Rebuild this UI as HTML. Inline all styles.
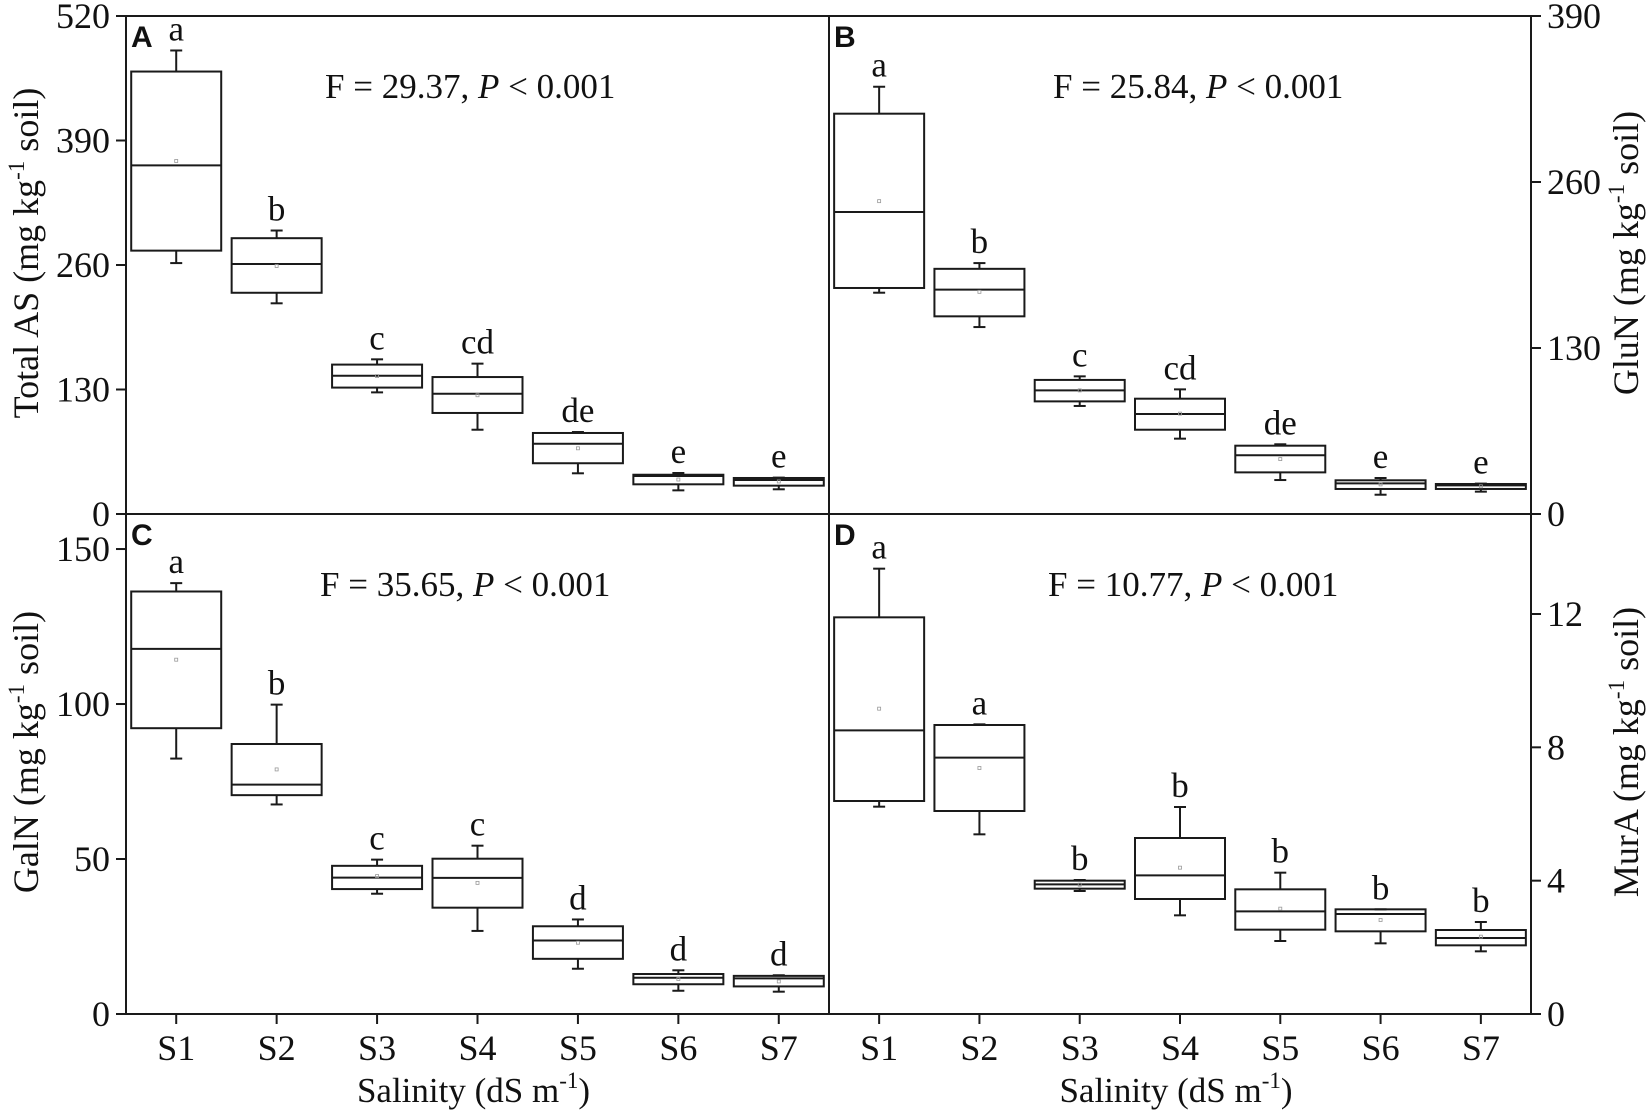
<!DOCTYPE html>
<html><head><meta charset="utf-8">
<style>
html,body{margin:0;padding:0;background:#fff;}
svg{display:block;}
text{font-family:"Liberation Serif",serif;fill:#111;}
</style></head>
<body>
<svg id="chart" width="1650" height="1114" viewBox="0 0 1650 1114"></svg>
<script>
const categories = ["S1","S2","S3","S4","S5","S6","S7"];
// Panel A: Total AS
const aWhiskerHigh = [484, 296, 161.5, 157, 85.6, 42.8, 38];
const aBoxHigh     = [462, 288, 156, 143, 84.6, 41, 37.6];
const aMedian      = [364, 261, 144.4, 125.6, 73.4, 39.7, 35.5];
const aMean        = [368.6, 259, 144, 124, 68.6, 36, 34];
const aBoxLow      = [275, 231, 132, 105.5, 53, 31, 29.6];
const aWhiskerLow  = [262, 220, 127, 88, 42.5, 24.7, 25.8];
const aLetters     = ["a","b","c","cd","de","e","e"];
const aTicks       = [0, 130, 260, 390, 520];
// Panel B: GluN
const bWhiskerHigh = [334.6, 196.5, 107.8, 97.6, 54.6, 28.2, 23.8];
const bBoxHigh     = [313.5, 192, 105, 90.3, 53.5, 26.4, 23.5];
const bMedian      = [236.5, 175.7, 96.8, 78.3, 46, 24, 22.4];
const bMean        = [245, 174, 96.8, 78.6, 43, 23.2, 21.7];
const bBoxLow      = [177, 154.8, 88.2, 66, 32.6, 19.6, 19.6];
const bWhiskerLow  = [173.3, 146.4, 84.6, 59, 26.6, 15.1, 17.5];
const bLetters     = ["a","b","c","cd","de","e","e"];
const bTicks       = [0, 130, 260, 390];
// Panel C: GalN
const cWhiskerHigh = [139, 99.8, 49.8, 54.3, 30.5, 14.1, 12.5];
const cBoxHigh     = [136.3, 87.1, 47.8, 50.1, 28.3, 12.9, 12.3];
const cMedian      = [117.8, 74, 44, 43.9, 23.7, 11.7, 11.5];
const cMean        = [114.3, 78.9, 44.5, 42.3, 23, 11.3, 10.5];
const cBoxLow      = [92.2, 70.6, 40.3, 34.3, 17.8, 9.6, 8.9];
const cWhiskerLow  = [82.4, 67.6, 38.8, 26.8, 14.6, 7.5, 7.2];
const cLetters     = ["a","b","c","c","d","d","d"];
const cTicks       = [0, 50, 100, 150];
// Panel D: MurA
const dWhiskerHigh = [13.36, 8.69, 4.02, 6.21, 4.24, 3.14, 2.76];
const dBoxHigh     = [11.9, 8.67, 4.0, 5.28, 3.74, 3.14, 2.52];
const dMedian      = [8.51, 7.69, 3.89, 4.16, 3.08, 3.0, 2.28];
const dMean        = [9.16, 7.38, 3.88, 4.39, 3.16, 2.82, 2.32];
const dBoxLow      = [6.39, 6.09, 3.76, 3.45, 2.53, 2.48, 2.06];
const dWhiskerLow  = [6.22, 5.39, 3.69, 2.96, 2.19, 2.12, 1.88];
const dLetters     = ["a","a","b","b","b","b","b"];
const dTicks       = [0, 4, 8, 12];

const NS = "http://www.w3.org/2000/svg";
const svg = document.getElementById("chart");
function mk(tag, attrs, parent, txt){
  const e = document.createElementNS(NS, tag);
  for (const k in attrs) e.setAttribute(k, attrs[k]);
  if (txt !== undefined) e.textContent = txt;
  (parent || svg).appendChild(e);
  return e;
}
const STROKE = "#1a1a1a";

const panels = [
  {id:"a", label:"A", x0:126, x1:829, y0:16, y1:514, max:520, ticks:aTicks, side:"left",
   wh:aWhiskerHigh, bh:aBoxHigh, md:aMedian, mn:aMean, bl:aBoxLow, wl:aWhiskerLow, lt:aLetters,
   stat:"29.37", statX:325, title:"Total AS", titleX:38},
  {id:"b", label:"B", x0:829, x1:1531, y0:16, y1:514, max:390, ticks:bTicks, side:"right",
   wh:bWhiskerHigh, bh:bBoxHigh, md:bMedian, mn:bMean, bl:bBoxLow, wl:bWhiskerLow, lt:bLetters,
   stat:"25.84", statX:1053, title:"GluN", titleX:1638},
  {id:"c", label:"C", x0:126, x1:829, y0:514, y1:1014, max:161.3, ticks:cTicks, side:"left",
   wh:cWhiskerHigh, bh:cBoxHigh, md:cMedian, mn:cMean, bl:cBoxLow, wl:cWhiskerLow, lt:cLetters,
   stat:"35.65", statX:320, title:"GalN", titleX:38},
  {id:"d", label:"D", x0:829, x1:1531, y0:514, y1:1014, max:15, ticks:dTicks, side:"right",
   wh:dWhiskerHigh, bh:dBoxHigh, md:dMedian, mn:dMean, bl:dBoxLow, wl:dWhiskerLow, lt:dLetters,
   stat:"10.77", statX:1048, title:"MurA", titleX:1638}
];

panels.forEach(p => {
  const g = mk("g", {});
  
  
  const step = (p.x1 - p.x0) / categories.length;
  const xs = i => p.x0 + step * (i + 0.5);
  const ys = v => p.y1 - (v / p.max) * (p.y1 - p.y0);

  const fr = mk("rect", {x:p.x0, y:p.y0, width:p.x1-p.x0, height:p.y1-p.y0, fill:"none", stroke:STROKE, "stroke-width":2}, g);
  
  

  const axisX = p.side === "left" ? p.x0 : p.x1;
  const dir = p.side === "left" ? -1 : 1;
  const yAxis = mk("g", {}, g);
  
  
  p.ticks.forEach(t => {
    const y = ys(t);
    mk("line", {x1:axisX, x2:axisX + dir*10, y1:y, y2:y, stroke:STROKE, "stroke-width":2}, yAxis);
    const tl = mk("text", {x:axisX + dir*16, y:y + 12, "font-size":36, "text-anchor": p.side==="left"?"end":"start"}, yAxis, String(t));
    
    
  });

  const cy = (p.y0 + p.y1) / 2 - 12;
  const tt = mk("text", {x:0, y:0, "font-size":36, "text-anchor":"middle",
    transform:`translate(${p.titleX},${cy}) rotate(-90)`}, g);
  
  
  mk("tspan", {}, tt, p.title + " (mg kg");
  mk("tspan", {dy:-14, "font-size":23}, tt, "-1");
  mk("tspan", {dy:14}, tt, " soil)");

  const pl = mk("text", {x:p.x0 + 5, y:p.y0 + 31, "font-size":30, "font-weight":"bold", style:"font-family:'Liberation Sans',sans-serif"}, g, p.label);
  
  

  const st = mk("text", {x:p.statX, y:p.y0 + 82, "font-size":35}, g);
  
  
  mk("tspan", {}, st, "F = " + p.stat + ", ");
  mk("tspan", {"font-style":"italic"}, st, "P");
  mk("tspan", {}, st, " < 0.001");

  const bw = 90;
  categories.forEach((c, i) => {
    const x = xs(i);
    const bg = mk("g", {}, g);
    
    
    const yWH = ys(p.wh[i]), yBH = ys(p.bh[i]), yMd = ys(p.md[i]), yBL = ys(p.bl[i]), yWL = ys(p.wl[i]), yMn = ys(p.mn[i]);
    mk("line", {x1:x, x2:x, y1:yWH, y2:yBH, stroke:STROKE, "stroke-width":2}, bg);
    mk("line", {x1:x-6, x2:x+6, y1:yWH, y2:yWH, stroke:STROKE, "stroke-width":2}, bg);
    mk("line", {x1:x, x2:x, y1:yBL, y2:yWL, stroke:STROKE, "stroke-width":2}, bg);
    mk("line", {x1:x-6, x2:x+6, y1:yWL, y2:yWL, stroke:STROKE, "stroke-width":2}, bg);
    mk("rect", {x:x-bw/2, y:yBH, width:bw, height:Math.max(1, yBL-yBH), fill:"none", stroke:STROKE, "stroke-width":2}, bg);
    mk("line", {x1:x-bw/2, x2:x+bw/2, y1:yMd, y2:yMd, stroke:STROKE, "stroke-width":2}, bg);
    mk("rect", {x:x-1.5, y:yMn-1.5, width:3, height:3, fill:"none", stroke:"#999", "stroke-width":0.8}, bg);
    const lt = mk("text", {x:x, y:yWH - 10, "font-size":35, "text-anchor":"middle"}, bg, p.lt[i]);
    
    
  });

  if (p.y1 === 1014) {
    const xa = mk("g", {}, g);
    
    
    categories.forEach((c, i) => {
      const x = xs(i);
      mk("line", {x1:x, x2:x, y1:p.y1, y2:p.y1 + 10, stroke:STROKE, "stroke-width":2}, xa);
      const xl = mk("text", {x:x, y:1060, "font-size":36, "text-anchor":"middle"}, xa, c);
      
      
    });
    const xt = mk("text", {x:(p.x0 + p.x1)/2 - 4, y:1102, "font-size":35, "text-anchor":"middle"}, g);
    
    
    mk("tspan", {}, xt, "Salinity (dS m");
    mk("tspan", {dy:-14, "font-size":23}, xt, "-1");
    mk("tspan", {dy:14}, xt, ")");
  }
});
</script>
</body></html>
